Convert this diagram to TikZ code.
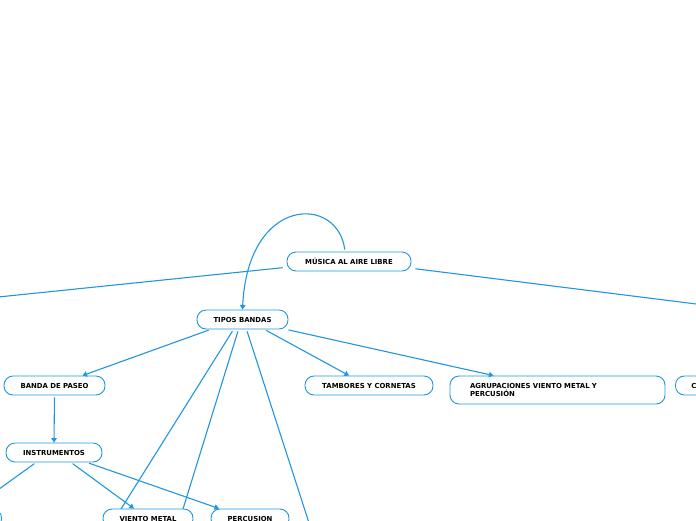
\documentclass[tikz,border=0pt]{standalone}
\usepackage{fontspec}
\setmainfont{DejaVu Sans}
\usetikzlibrary{arrows.meta}
\definecolor{mapblue}{HTML}{2196DE}
\begin{document}
\begin{tikzpicture}[x=1pt,y=-1pt,line width=1.1pt,
  >={Triangle[width=5.5pt,length=4.5pt]},
  box/.style={draw=mapblue,fill=white,rounded corners=9pt,line width=0.9pt,
    minimum height=19pt,inner ysep=2pt,font=\fontsize{6.9}{8}\selectfont\bfseries},
  link/.style={draw=mapblue,shorten <=2pt}]
  \clip (0,0) rectangle (696,520);

  % nodos
  \node[box,minimum width=124pt] (musica) at (349,261.5) {MÚSICA AL AIRE LIBRE};
  \node[box,minimum width=91pt] (tipos) at (242.5,319.5) {TIPOS BANDAS};
  \node[box,minimum width=101pt] (paseo) at (54.5,385.5) {BANDA DE PASEO};
  \node[box,minimum width=128pt] (tambores) at (369,385.5) {TAMBORES Y CORNETAS};
  \node[box,text width=175pt,align=left,inner xsep=20pt,minimum height=28pt]
    (agrup) at (557.5,390) {AGRUPACIONES VIENTO METAL Y\\PERCUSIÓN};
  \node[box,text width=60pt,align=left,inner xsep=16pt,anchor=west] (conc) at (675,385.5) {C};
  \node[box,minimum width=96pt] (instr) at (54,452.5) {INSTRUMENTOS};
  \node[box,minimum width=90pt] (viento) at (148,518.5) {VIENTO METAL};
  \node[box,minimum width=78pt] (perc) at (250,518.5) {PERCUSION};
  \node[box,minimum width=80pt,anchor=east] (cuerda) at (2,518.5) {};

  % extremos libres
  \coordinate (izq) at (-60,303);
  \coordinate (der) at (760,312);
  \coordinate (v1) at (121,509);
  \coordinate (v2) at (183,509);
  \coordinate (abajo) at (321,560);
  \coordinate (instrizq) at (-30,510);

  % conectores
  \draw[link] ([xshift=-2pt,yshift=-6pt]musica.west) -- (izq);
  \draw[link] ([xshift=2pt,yshift=-7pt]musica.east) -- (der);
  \draw[link,->] ([xshift=-4pt]musica.north) .. controls (338,195) and (248,195) .. (tipos.north);
  \draw[link,->] ([xshift=-32pt]tipos.south) -- ([xshift=28pt]paseo.north);
  \draw[link,->] ([xshift=22pt]tipos.south) -- ([xshift=-20pt]tambores.north);
  \draw[link,->] ([xshift=44pt]tipos.south) -- ([xshift=-64pt]agrup.north);
  \draw[link] ([xshift=-9pt]tipos.south) -- (v1);
  \draw[link] ([xshift=-4pt]tipos.south) -- (v2);
  \draw[link] ([xshift=4pt]tipos.south) -- (abajo);
  \draw[link,->] (paseo.south) -- (instr.north);
  \draw[link] ([xshift=-18pt]instr.south) -- (instrizq);
  \draw[link,->] ([xshift=17pt]instr.south) -- ([xshift=-14pt]viento.north);
  \draw[link,->] ([xshift=33pt]instr.south) -- ([xshift=-31pt]perc.north);
\end{tikzpicture}
\end{document}
